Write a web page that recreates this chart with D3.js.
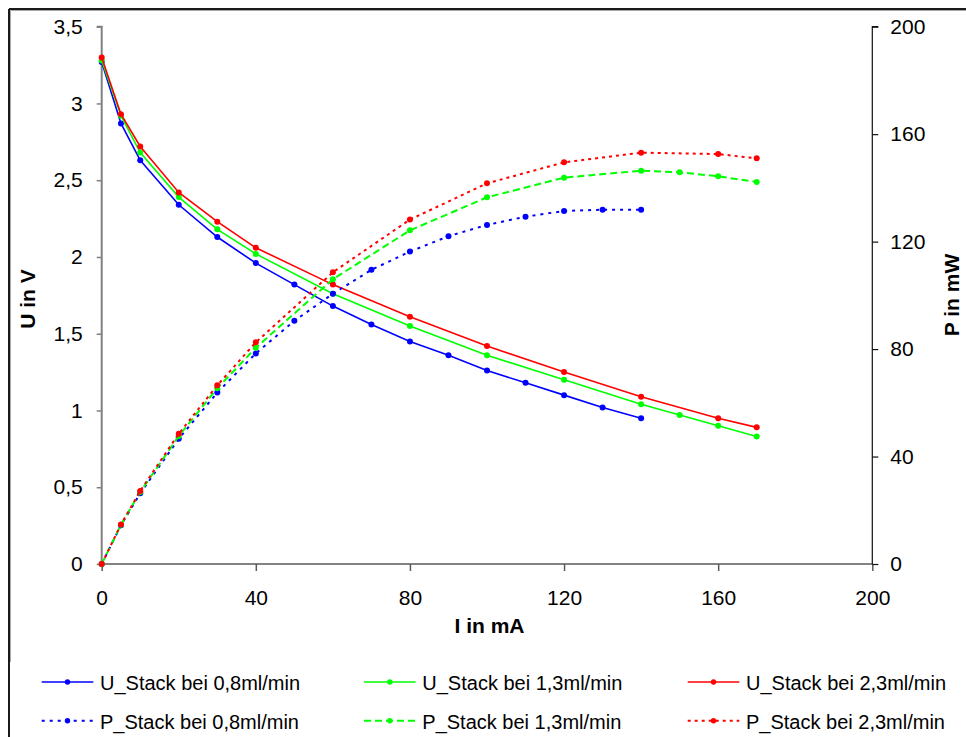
<!DOCTYPE html>
<html>
<head>
<meta charset="utf-8">
<script src="https://cdn.jsdelivr.net/npm/d3@7"></script>
<style>
  html, body { margin: 0; padding: 0; background: #fff; }
  svg { display: block; font-family: "Liberation Sans", Arial, sans-serif; }
</style>
</head>
<body>
<svg id="chart" width="966" height="737"></svg>
<script>
// ---- data ----
const currentU08 = [0, 5, 10, 20, 30, 40, 50, 60, 70, 80, 90, 100, 110, 120, 130, 140];
const voltage08  = [3.27, 2.87, 2.63, 2.34, 2.13, 1.96, 1.82, 1.68, 1.56, 1.45, 1.36, 1.26, 1.18, 1.10, 1.02, 0.95];
const power08    = [0, 14.4, 26.3, 46.6, 63.8, 78.4, 90.5, 100.6, 109.5, 116.3, 122.0, 126.2, 129.3, 131.4, 131.9, 131.9];

const currentU13 = [0, 5, 10, 20, 30, 40, 60, 80, 100, 120, 140, 150, 160, 170];
const voltage13  = [3.28, 2.92, 2.68, 2.39, 2.18, 2.02, 1.76, 1.55, 1.36, 1.20, 1.04, 0.97, 0.90, 0.83];
const power13    = [0, 14.6, 26.8, 47.6, 65.4, 80.5, 106.0, 124.2, 136.5, 143.8, 146.4, 145.8, 144.3, 142.2];

const currentU23 = [0, 5, 10, 20, 30, 40, 60, 80, 100, 120, 140, 160, 170];
const voltage23  = [3.30, 2.93, 2.72, 2.42, 2.23, 2.06, 1.82, 1.61, 1.42, 1.25, 1.09, 0.95, 0.89];
const power23    = [0, 14.7, 27.2, 48.5, 66.5, 82.5, 108.6, 128.2, 141.7, 149.5, 153.1, 152.6, 151.0];

const xTicks      = [0, 40, 80, 120, 160, 200];
const yLeftTicks  = [0, 0.5, 1, 1.5, 2, 2.5, 3, 3.5];
const yRightTicks = [0, 40, 80, 120, 160, 200];

const seriesNames = [
  "U_Stack bei 0,8ml/min", "U_Stack bei 1,3ml/min", "U_Stack bei 2,3ml/min",
  "P_Stack bei 0,8ml/min", "P_Stack bei 1,3ml/min", "P_Stack bei 2,3ml/min"
];

// ---- layout ----
const svg = d3.select("#chart");
const X0 = 101.7, X1 = 872.3, YT = 26.7, YB = 564;

const x  = d3.scaleLinear().domain([0, 200]).range([X0, X1]);
const yL = d3.scaleLinear().domain([0, 3.5]).range([YB, YT]);
const yR = d3.scaleLinear().domain([0, 200]).range([YB, YT]);

const loc = d3.formatLocale({decimal: ",", thousands: ".", grouping: [3], currency: ["", "€"]});
const fmtL = d => loc.format("~g")(d);

// outer border
svg.append("line").attr("x1", 9).attr("y1", 9).attr("x2", 966).attr("y2", 9)
  .attr("stroke", "#1a1a1a").attr("stroke-width", 2);
svg.append("line").attr("x1", 9).attr("y1", 9).attr("x2", 9).attr("y2", 737)
  .attr("stroke", "#1a1a1a").attr("stroke-width", 2);
svg.append("line").attr("x1", 10.5).attr("y1", 10.5).attr("x2", 966).attr("y2", 10.5)
  .attr("stroke", "#a8a8a8").attr("stroke-width", 1);
svg.append("line").attr("x1", 10.5).attr("y1", 10.5).attr("x2", 10.5).attr("y2", 662)
  .attr("stroke", "#a8a8a8").attr("stroke-width", 1);

// axes
const gL = svg.append("g").attr("transform", `translate(${X0},0)`)
  .call(d3.axisLeft(yL).tickValues(yLeftTicks).tickFormat(fmtL).tickSize(5).tickPadding(14));
gL.select(".domain").attr("stroke", "#808080").attr("stroke-width", 2).attr("d", `M-5,${YT}H0V${YB}`);
gL.selectAll(".tick line").attr("stroke", "#808080").attr("stroke-width", 1.5);

const gB = svg.append("g").attr("transform", `translate(0,${YB})`)
  .call(d3.axisBottom(x).tickValues(xTicks).tickSize(7).tickPadding(19));
gB.select(".domain").attr("stroke", "#5a5a5a").attr("stroke-width", 1.6).attr("d", `M${X0},0H${X1}`);
gB.selectAll(".tick line").attr("stroke", "#5a5a5a").attr("stroke-width", 1.5);

const gR = svg.append("g").attr("transform", `translate(${X1},0)`)
  .call(d3.axisRight(yR).tickValues(yRightTicks).tickSize(6).tickPadding(12));
gR.select(".domain").attr("stroke", "#111").attr("stroke-width", 1.2).attr("d", `M6,${YT}H0V${YB}`);
gR.selectAll(".tick line").attr("stroke", "#111").attr("stroke-width", 1.2);

svg.selectAll(".tick text").attr("font-size", 21).attr("fill", "#000")
  .attr("font-family", "'Liberation Sans', Arial, sans-serif");

// axis titles
svg.append("text").attr("transform", "translate(35,299) rotate(-90)")
  .attr("text-anchor", "middle").attr("font-size", 21).attr("font-weight", "bold").text("U in V");
svg.append("text").attr("transform", "translate(959,295) rotate(-90)")
  .attr("text-anchor", "middle").attr("font-size", 21).attr("font-weight", "bold").text("P in mW");
svg.append("text").attr("x", 489.5).attr("y", 633)
  .attr("text-anchor", "middle").attr("font-size", 21).attr("font-weight", "bold").text("I in mA");

// series
const BLUE = "#0000ff", GREEN = "#00ff00", RED = "#ff0000";
const series = [
  {name: seriesNames[0], xs: currentU08, ys: voltage08, scale: yL, color: BLUE,  dash: null},
  {name: seriesNames[1], xs: currentU13, ys: voltage13, scale: yL, color: GREEN, dash: null},
  {name: seriesNames[2], xs: currentU23, ys: voltage23, scale: yL, color: RED,   dash: null},
  {name: seriesNames[3], xs: currentU08, ys: power08,   scale: yR, color: BLUE,  dash: "3,5"},
  {name: seriesNames[4], xs: currentU13, ys: power13,   scale: yR, color: GREEN, dash: "7,4"},
  {name: seriesNames[5], xs: currentU23, ys: power23,   scale: yR, color: RED,   dash: "3,4"}
];

const plot = svg.append("g");
series.forEach(s => {
  const pts = s.xs.map((v, i) => [v, s.ys[i]]);
  const line = d3.line().x(d => x(d[0])).y(d => s.scale(d[1]));
  plot.append("path").datum(pts).attr("d", line)
    .attr("fill", "none").attr("stroke", s.color)
    .attr("stroke-width", s.dash ? 2 : 1.6)
    .attr("stroke-dasharray", s.dash);
  plot.selectAll(null).data(pts).enter().append("circle")
    .attr("cx", d => x(d[0])).attr("cy", d => s.scale(d[1]))
    .attr("r", 3).attr("fill", s.color);
});

// legend
const legCols = [41.7, 364, 687.7];
const legRows = [682, 720.7];
const leg = svg.append("g");
series.forEach((s, i) => {
  const col = i % 3, row = Math.floor(i / 3);
  const lx = legCols[col], ly = legRows[row];
  leg.append("line").attr("x1", lx).attr("x2", lx + 51.6).attr("y1", ly).attr("y2", ly)
    .attr("stroke", s.color).attr("stroke-width", s.dash ? 2 : 1.6)
    .attr("stroke-dasharray", s.dash);
  leg.append("circle").attr("cx", lx + 25.8).attr("cy", ly).attr("r", 2.7).attr("fill", s.color);
  leg.append("text").attr("x", lx + 58.3).attr("y", ly + 8.3)
    .attr("font-size", 20).attr("fill", "#000").text(s.name);
});
</script>
</body>
</html>
